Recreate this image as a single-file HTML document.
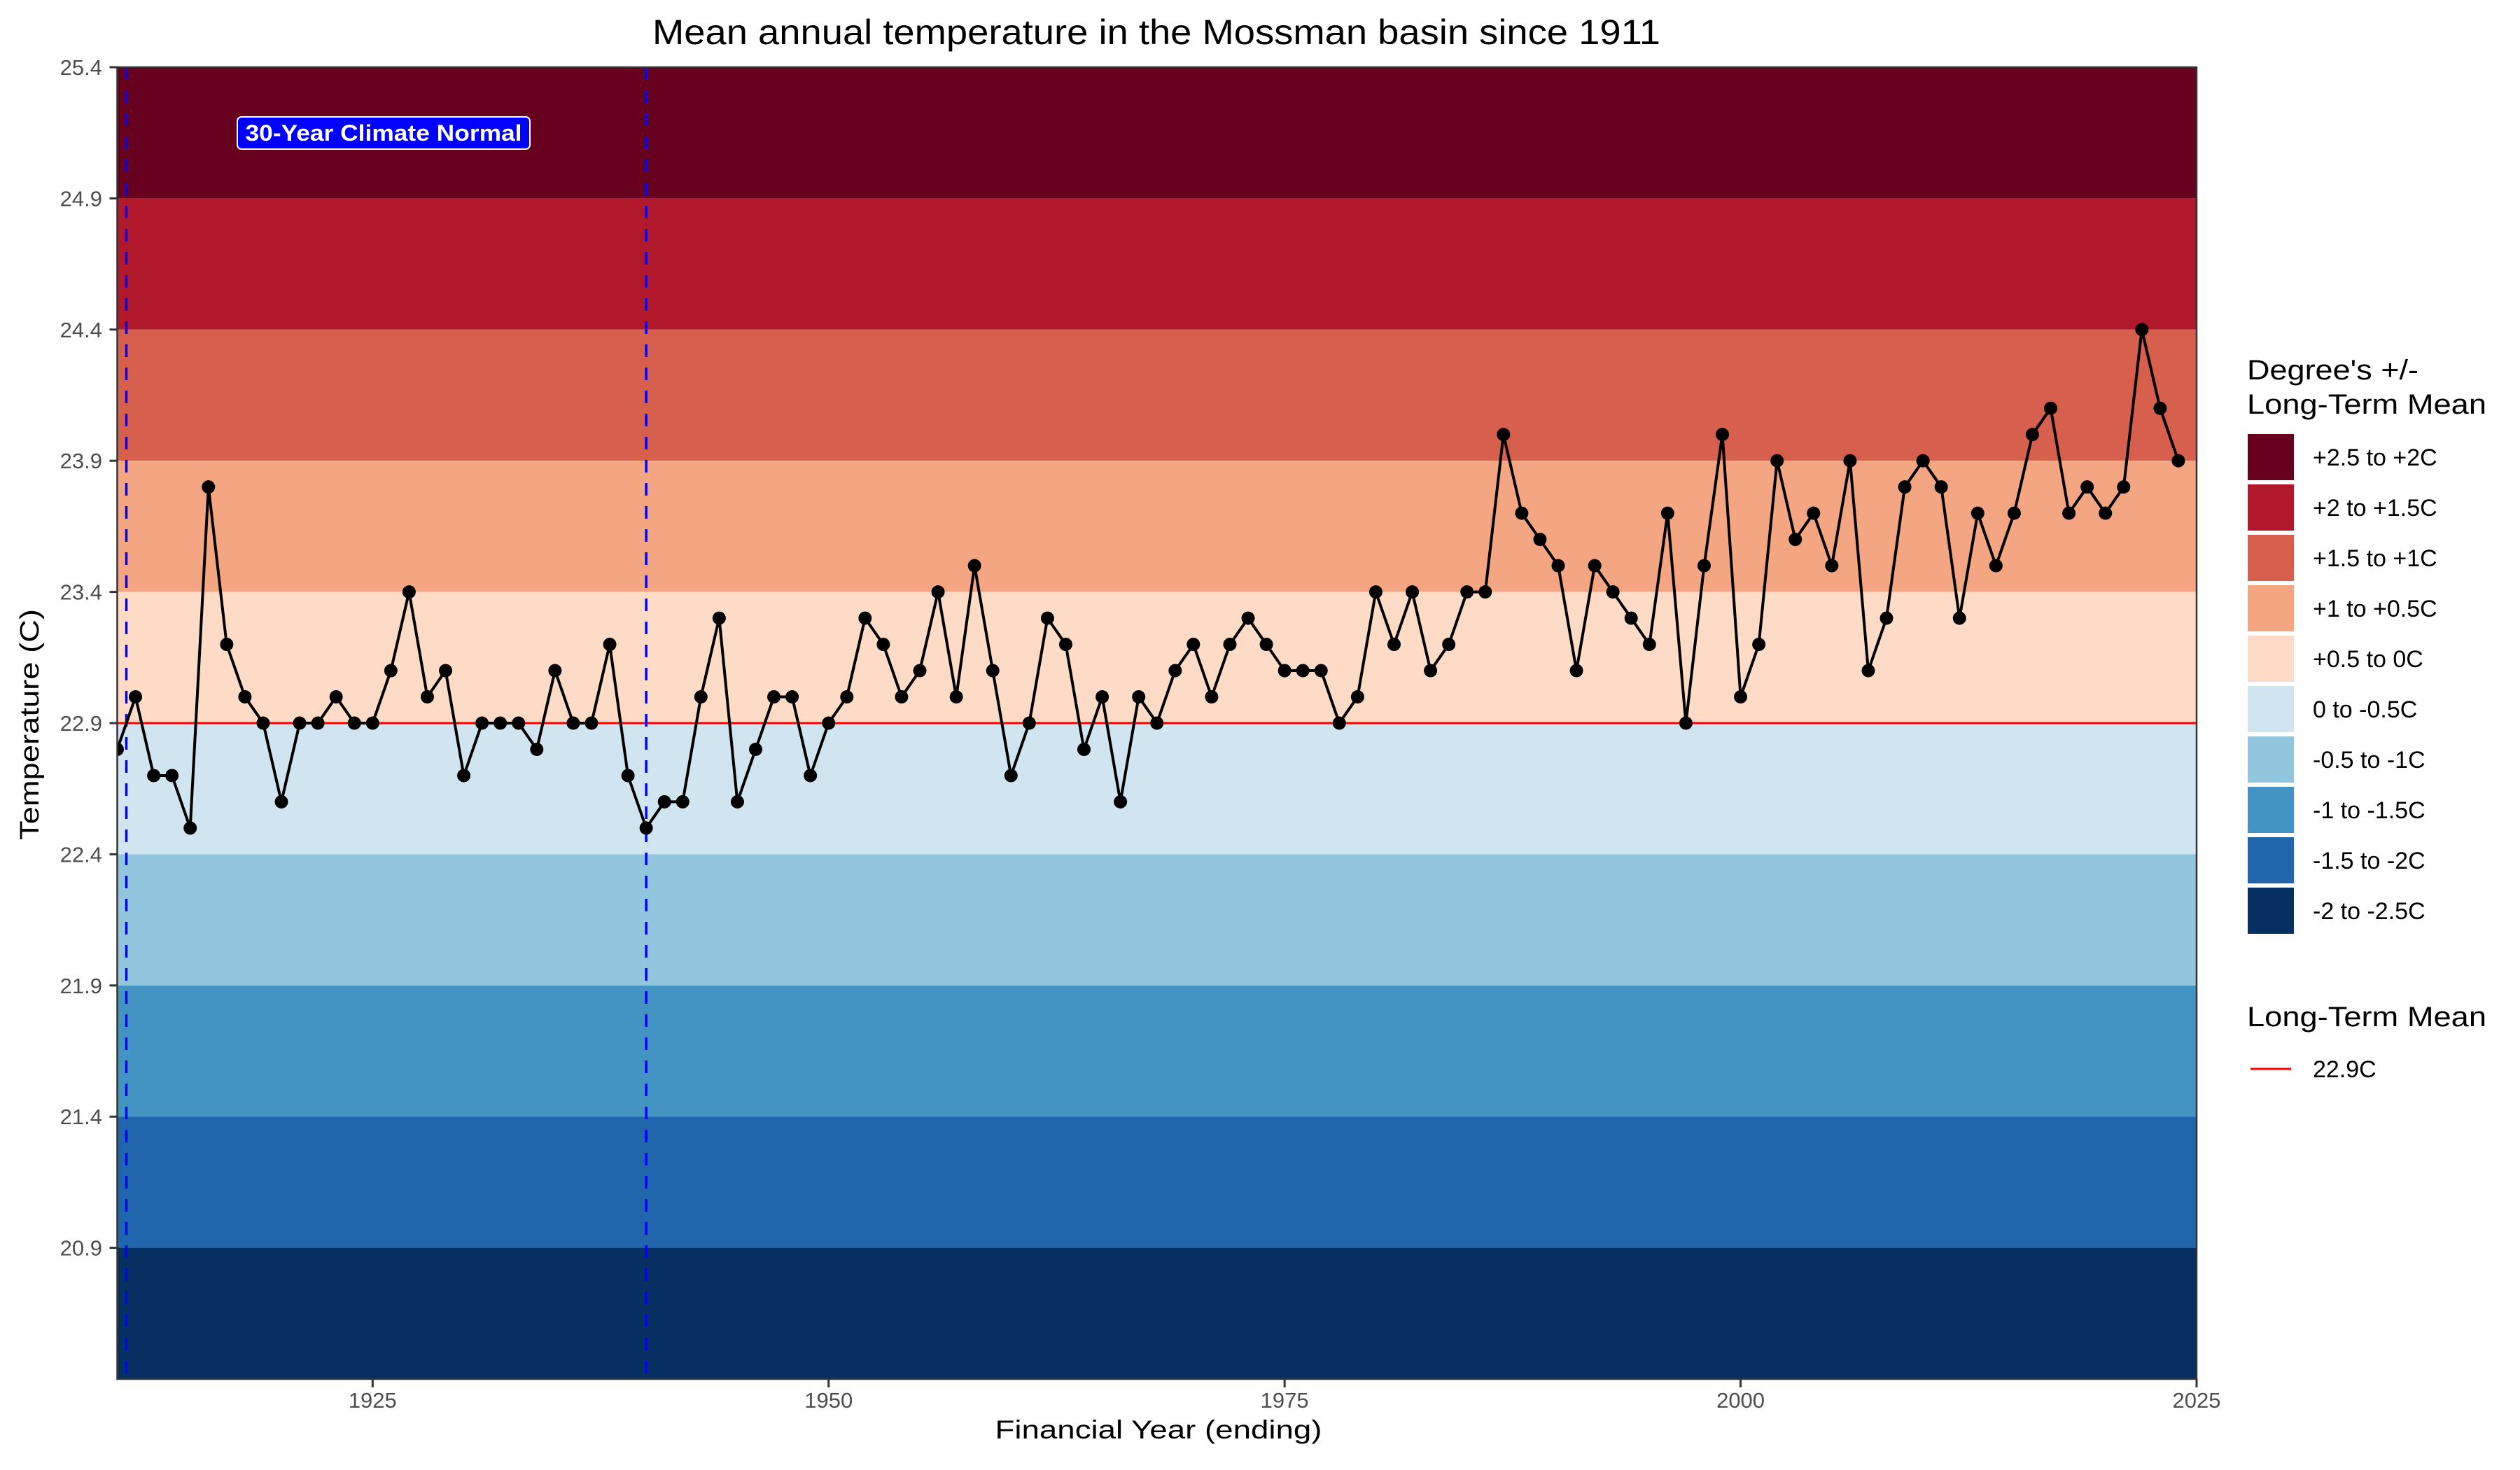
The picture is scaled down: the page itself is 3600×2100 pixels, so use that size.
<!DOCTYPE html>
<html>
<head>
<meta charset="utf-8">
<style>
  html, body { margin: 0; padding: 0; background: #ffffff; }
  svg { display: block; font-family: "Liberation Sans", Arial, sans-serif; }
</style>
</head>
<body>
<svg id="chart" xmlns="http://www.w3.org/2000/svg" width="3600" height="2100" viewBox="0 0 3600 2100">
  <rect x="0" y="0" width="3600" height="2100" fill="#ffffff"/>
  <text x="1652" y="63" text-anchor="middle" font-size="50" fill="#000" textLength="1440" lengthAdjust="spacingAndGlyphs">Mean annual temperature in the Mossman basin since 1911</text>
  <g id="bands"></g>
  <g id="refs"></g>
  <g id="series"></g>
  <g id="axes"></g>
  <g>
    <rect x="339" y="167" width="418" height="46" rx="6" ry="6" fill="#0000ff" stroke="#ffffff" stroke-width="2"/>
    <text x="548" y="201" text-anchor="middle" font-size="32" font-weight="bold" fill="#ffffff" textLength="395" lengthAdjust="spacingAndGlyphs">30-Year Climate Normal</text>
  </g>
  <text x="1655" y="2055" text-anchor="middle" font-size="37" fill="#000" textLength="467" lengthAdjust="spacingAndGlyphs">Financial Year (ending)</text>
  <text x="0" y="0" transform="translate(55,1035) rotate(-90)" text-anchor="middle" font-size="38" fill="#000" textLength="330" lengthAdjust="spacingAndGlyphs">Temperature (C)</text>
  <g id="legend"></g>
</svg>
<script>
const years = [1911,1912,1913,1914,1915,1916,1917,1918,1919,1920,1921,1922,1923,1924,1925,1926,1927,1928,1929,1930,1931,1932,1933,1934,1935,1936,1937,1938,1939,1940,1941,1942,1943,1944,1945,1946,1947,1948,1949,1950,1951,1952,1953,1954,1955,1956,1957,1958,1959,1960,1961,1962,1963,1964,1965,1966,1967,1968,1969,1970,1971,1972,1973,1974,1975,1976,1977,1978,1979,1980,1981,1982,1983,1984,1985,1986,1987,1988,1989,1990,1991,1992,1993,1994,1995,1996,1997,1998,1999,2000,2001,2002,2003,2004,2005,2006,2007,2008,2009,2010,2011,2012,2013,2014,2015,2016,2017,2018,2019,2020,2021,2022,2023,2024];
const temps = [22.8,23.0,22.7,22.7,22.5,23.8,23.2,23.0,22.9,22.6,22.9,22.9,23.0,22.9,22.9,23.1,23.4,23.0,23.1,22.7,22.9,22.9,22.9,22.8,23.1,22.9,22.9,23.2,22.7,22.5,22.6,22.6,23.0,23.3,22.6,22.8,23.0,23.0,22.7,22.9,23.0,23.3,23.2,23.0,23.1,23.4,23.0,23.5,23.1,22.7,22.9,23.3,23.2,22.8,23.0,22.6,23.0,22.9,23.1,23.2,23.0,23.2,23.3,23.2,23.1,23.1,23.1,22.9,23.0,23.4,23.2,23.4,23.1,23.2,23.4,23.4,24.0,23.7,23.6,23.5,23.1,23.5,23.4,23.3,23.2,23.7,22.9,23.5,24.0,23.0,23.2,23.9,23.6,23.7,23.5,23.9,23.1,23.3,23.8,23.9,23.8,23.3,23.7,23.5,23.7,24.0,24.1,23.7,23.8,23.7,23.8,24.4,24.1,23.9];
const longTermMean = [22.9];
const normalPeriod = [1911.5, 1940];
const bandEdges = [25.4,24.9,24.4,23.9,23.4,22.9,22.4,21.9,21.4,20.9,20.4];
const bandColors = ["#67001f","#b2182b","#d6604d","#f4a582","#fddbc7","#d1e5f0","#92c5de","#4393c3","#2166ac","#053061"];
const bandLabels = ["+2.5 to +2C","+2 to +1.5C","+1.5 to +1C","+1 to +0.5C","+0.5 to 0C","0 to -0.5C","-0.5 to -1C","-1 to -1.5C","-1.5 to -2C","-2 to -2.5C"];
const yTicks = [25.4,24.9,24.4,23.9,23.4,22.9,22.4,21.9,21.4,20.9];
const xTicks = [1925,1950,1975,2000,2025];

const NS = "http://www.w3.org/2000/svg";
const X0 = 167.5, X1 = 3138, Y0 = 96, Y1 = 1970;
const xMin = 1911, xMax = 2025, yMin = 20.4, yMax = 25.4;
function xs(v){ return X0 + (v - xMin) / (xMax - xMin) * (X1 - X0); }
function ys(v){ return Y0 + (yMax - v) / (yMax - yMin) * (Y1 - Y0); }
function mk(tag, attrs, parent){
  const e = document.createElementNS(NS, tag);
  for (const k in attrs) e.setAttribute(k, attrs[k]);
  parent.appendChild(e);
  return e;
}

const bands = document.getElementById('bands');
for (let i = 0; i < bandColors.length; i++) {
  const r = mk('rect', {x: X0, y: ys(bandEdges[i]), width: X1 - X0, height: ys(bandEdges[i+1]) - ys(bandEdges[i]), fill: bandColors[i]}, bands);
  
  
}

const refs = document.getElementById('refs');
const mean = mk('line', {x1: X0, x2: X1, y1: ys(longTermMean[0]), y2: ys(longTermMean[0]), stroke: '#ff0000', 'stroke-width': 3}, refs);


normalPeriod.forEach((yr, i) => {
  const l = mk('line', {x1: xs(yr), x2: xs(yr), y1: Y0, y2: Y1, stroke: '#0000ff', 'stroke-width': 3.5, 'stroke-dasharray': '18 15'}, refs);
  
  
});

const series = document.getElementById('series');
const clip = mk('clipPath', {id: 'pclip'}, series);
mk('rect', {x: X0, y: Y0, width: X1 - X0, height: Y1 - Y0}, clip);
const sg = mk('g', {'clip-path': 'url(#pclip)'}, series);
const pts = years.map((y, i) => xs(y).toFixed(1) + ',' + ys(temps[i]).toFixed(1)).join(' ');
const pl = mk('polyline', {points: pts, fill: 'none', stroke: '#000', 'stroke-width': 4, 'stroke-linejoin': 'round'}, sg);


years.forEach((y, i) => {
  const c = mk('circle', {cx: xs(y), cy: ys(temps[i]), r: 9.5, fill: '#000'}, sg);
  
  
});

const axes = document.getElementById('axes');
const border = mk('rect', {x: X0, y: Y0, width: X1 - X0, height: Y1 - Y0, fill: 'none', stroke: '#333333', 'stroke-width': 2.5}, axes);


yTicks.forEach(t => {
  const tk = mk('line', {x1: X0 - 11, x2: X0, y1: ys(t), y2: ys(t), stroke: '#333333', 'stroke-width': 3}, axes);
  
  
  const tx = mk('text', {x: 146, y: ys(t) + 11, 'text-anchor': 'end', 'font-size': 31, fill: '#4d4d4d'}, axes);
  tx.textContent = t.toFixed(1);
  
  
});
xTicks.forEach(t => {
  const tk = mk('line', {x1: xs(t), x2: xs(t), y1: Y1, y2: Y1 + 12, stroke: '#333333', 'stroke-width': 3}, axes);
  
  
  const tx = mk('text', {x: xs(t), y: 2011, 'text-anchor': 'middle', 'font-size': 31, fill: '#4d4d4d'}, axes);
  tx.textContent = String(t);
  
  
});

const lg = document.getElementById('legend');
const t1 = mk('text', {x: 3210, y: 542, 'font-size': 40, fill: '#000', textLength: 245, lengthAdjust: 'spacingAndGlyphs'}, lg);
t1.textContent = "Degree's +/-";


const t2 = mk('text', {x: 3210, y: 591, 'font-size': 40, fill: '#000', textLength: 342, lengthAdjust: 'spacingAndGlyphs'}, lg);
t2.textContent = "Long-Term Mean";


bandLabels.forEach((lab, i) => {
  const yTop = 620 + i * 72;
  const k = mk('rect', {x: 3211, y: yTop, width: 66, height: 66, fill: bandColors[i]}, lg);
  
  
  const tx = mk('text', {x: 3304, y: yTop + 45, 'font-size': 34, fill: '#000'}, lg);
  tx.textContent = lab;
  
  
});
const t3 = mk('text', {x: 3210, y: 1466, 'font-size': 40, fill: '#000', textLength: 342, lengthAdjust: 'spacingAndGlyphs'}, lg);
t3.textContent = "Long-Term Mean";


const ml = mk('line', {x1: 3215, x2: 3273, y1: 1527, y2: 1527, stroke: '#ff0000', 'stroke-width': 3}, lg);


const mt = mk('text', {x: 3304, y: 1539, 'font-size': 34, fill: '#000'}, lg);
mt.textContent = longTermMean[0].toFixed(1) + 'C';


</script>
</body>
</html>
